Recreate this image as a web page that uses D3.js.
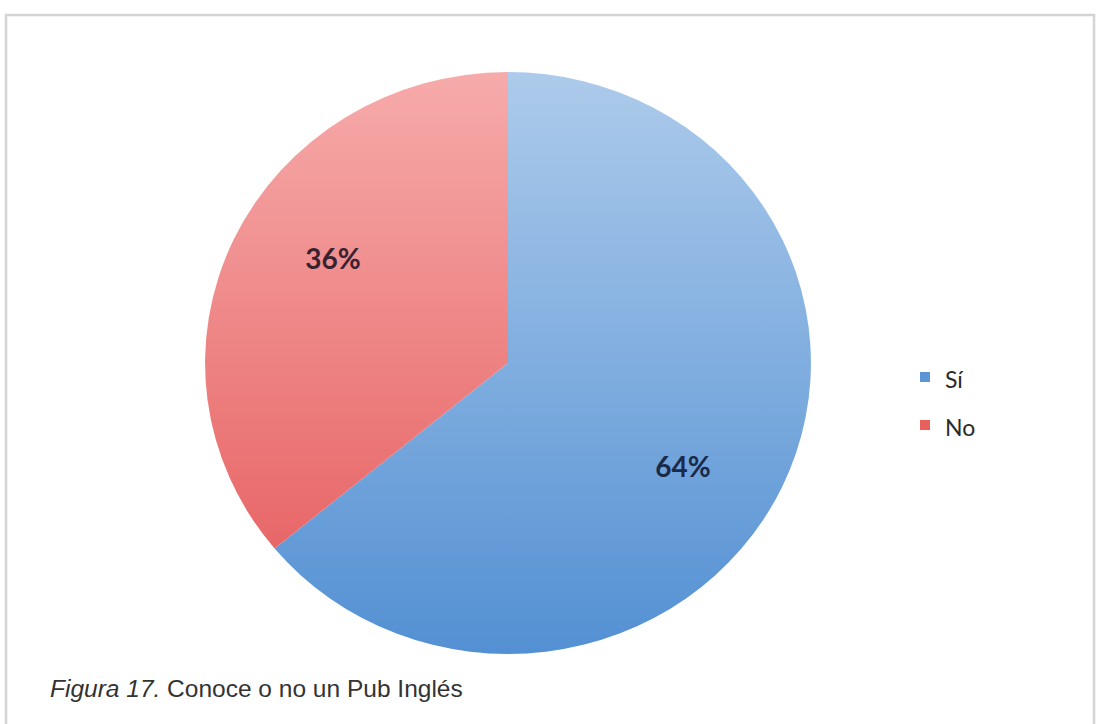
<!DOCTYPE html>
<html>
<head>
<meta charset="utf-8">
<script src="https://cdn.jsdelivr.net/npm/d3@7"></script>
<style>
  body { margin: 0; background: #fff; }
</style>
</head>
<body>
<div id="chart"></div>
<script>
const categories = ["Sí", "No"];
const values = [64, 36];
const labels = ["64%", "36%"];
const caption = ["Figura 17.", " Conoce o no un Pub Inglés"];

const width = 1096, height = 724;

const svg = d3.select("#chart").append("svg")
  .attr("width", width)
  .attr("height", height);

// frame around the figure
svg.append("rect")
  .attr("x", 6).attr("y", 15)
  .attr("width", 1088).attr("height", 720)
  .attr("fill", "none")
  .attr("stroke", "#d4d4d4")
  .attr("stroke-width", 2.5);

const defs = svg.append("defs");
const gradStops = {
  "Sí": ["#adcbeb", "#5390d3"],
  "No": ["#f6abaa", "#e5585a"]
};
categories.forEach((c, i) => {
  const g = defs.append("linearGradient")
    .attr("id", "grad" + i)
    .attr("gradientUnits", "userSpaceOnUse")
    .attr("x1", 0).attr("y1", -291).attr("x2", 0).attr("y2", 291);
  g.append("stop").attr("offset", "0%").attr("stop-color", gradStops[c][0]);
  g.append("stop").attr("offset", "100%").attr("stop-color", gradStops[c][1]);
});

const legendColor = d3.scaleOrdinal()
  .domain(categories)
  .range(["#5b95d6", "#e8605c"]);

const radius = 291;
const sx = 1.041; // slightly wider than tall, like the source image
const cx = 508, cy = 363;
const pie = d3.pie().sort(null).value(d => d.value);
const arc = d3.arc().innerRadius(0).outerRadius(radius);
const data = categories.map((c, i) => ({ name: c, value: values[i], label: labels[i], idx: i }));

const g = svg.append("g")
  .attr("transform", `translate(${cx},${cy}) scale(${sx},1)`);

g.selectAll("path")
  .data(pie(data))
  .enter()
  .append("path")
  .attr("d", arc)
  .attr("fill", d => `url(#grad${d.data.idx})`);

// data labels (Excel best-fit sits a bit clockwise of the mid angle)
const labelPie = d3.pie().sort(null).value(d => d.value)
  .startAngle(0.115).endAngle(2 * Math.PI + 0.115);
const labelArc = d3.arc().innerRadius(radius * 0.68).outerRadius(radius * 0.68);
svg.append("g")
  .selectAll("text")
  .data(labelPie(data))
  .enter()
  .append("text")
  .attr("x", d => cx + labelArc.centroid(d)[0] * sx)
  .attr("y", d => cy + labelArc.centroid(d)[1])
  .attr("dy", ".35em")
  .attr("text-anchor", "middle")
  .style("font-family", "Lato, 'Open Sans', sans-serif")
  .style("font-weight", "bold")
  .style("font-size", "28px")
  .attr("fill", d => d.data.idx === 0 ? "#1c2a4a" : "#3a2230")
  .text(d => d.data.label);

// legend
const legend = svg.append("g")
  .attr("transform", "translate(920,372)");

legend.selectAll("rect")
  .data(categories)
  .enter()
  .append("rect")
  .attr("x", 0)
  .attr("y", (d, i) => i * 48)
  .attr("width", 10)
  .attr("height", 10)
  .attr("fill", d => legendColor(d));

legend.selectAll("text")
  .data(categories)
  .enter()
  .append("text")
  .attr("x", 25)
  .attr("y", (d, i) => i * 48 + 16)
  .style("font-family", "Lato, 'Open Sans', sans-serif")
  .style("font-size", "23px")
  .attr("fill", "#2a2a2a")
  .text(d => d);

// caption
const cap = svg.append("text")
  .attr("x", 50)
  .attr("y", 697)
  .style("font-family", "'Liberation Sans', Arial, sans-serif")
  .style("font-size", "24.5px")
  .attr("fill", "#333");
cap.append("tspan").style("font-style", "italic").text(caption[0]);
cap.append("tspan").text(caption[1]);
</script>
</body>
</html>
